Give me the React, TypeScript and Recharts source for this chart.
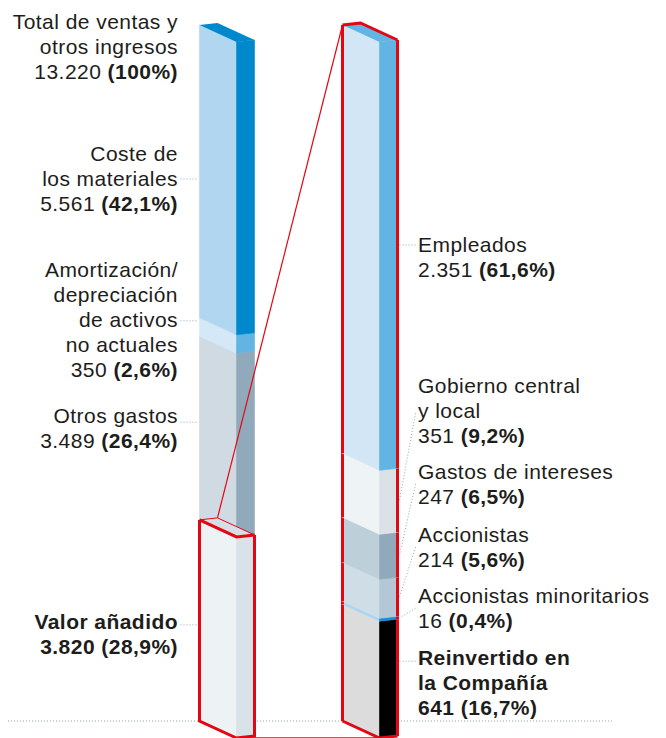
import { BarChart, Bar, XAxis, YAxis } from 'recharts'

// left column: sales split (bottom → top)
const leftKeys = ['valorAnadido', 'otrosGastos', 'amortizacion', 'costeMateriales']
const leftNames = [['Valor añadido'], ['Otros gastos'], ['Amortización/', 'depreciación', 'de activos', 'no actuales'], ['Coste de', 'los materiales']]
const leftValues = [3820, 3489, 350, 5561]
const leftPct = ['28,9%', '26,4%', '2,6%', '42,1%']
const totalName = ['Total de ventas y', 'otros ingresos']
const totalValue = 13220
const totalPct = '100%'

// right column: where the value added goes (bottom → top)
const rightKeys = ['reinvertido', 'minoritarios', 'accionistas', 'intereses', 'gobierno', 'empleados']
const rightNames = [['Reinvertido en', 'la Compañía'], ['Accionistas minoritarios'], ['Accionistas'], ['Gastos de intereses'], ['Gobierno central', 'y local'], ['Empleados']]
const rightValues = [641, 16, 214, 247, 351, 2351]
const rightPct = ['16,7%', '0,4%', '5,6%', '6,5%', '9,2%', '61,6%']
const rightTotal = rightValues.reduce((a, b) => a + b, 0)

const rows = [
  { side: 'total', ...Object.fromEntries(leftKeys.map((k, i) => [k, leftValues[i]])) },
  { side: 'valor', ...Object.fromEntries(rightKeys.map((k, i) => [k, rightValues[i]])) },
]

// layout / look
const W = 666
const H = 738
const MARGIN = { top: 25, right: 224.5, bottom: 17, left: 155.5 }
const BAND = (W - MARGIN.left - MARGIN.right) / 2
const BAR = 55
const FRONT = 37
const DEPTH = 18
const DROP = 17
const RISE = 2
const RED = '#e30613'
const DOT = '#8ea7b9'
const INK = '#1d1d1b'
const FONT = '"Liberation Sans", Arial, Helvetica, sans-serif'
const FS = 21
const LINE = 25

const leftStyle = [
  { front: '#edf2f5', side: '#d9e2e9', labelDy: 109, leadDy: -4, bold: true },
  { front: '#cfdae2', side: '#91aabb', labelDy: 87, leadDy: -1 },
  { front: '#d4e8f7', side: '#62b4e2', labelDy: -41, leadDy: 44 },
  { front: '#b1d6ef', side: '#0088cc', labelDy: 136, leadDy: 18 },
]
const rightStyle = [
  { front: '#dcdcdc', side: '#000000', labelDy: 61, leadDy: -4, leader: 'h', bold: true },
  { front: '#a9d5f1', side: '#1b8fd3', labelDy: 2, leadDy: 5, leader: 'd' },
  { front: '#cfdde6', side: '#b3c8d4', labelDy: -20, leadDy: 5, leader: 'd' },
  { front: '#bdcfd9', side: '#91aabb', labelDy: -38, leadDy: 5, leader: 'd' },
  { front: '#eef3f6', side: '#dae2e8', labelDy: -60, leadDy: 20, leader: 'd' },
  { front: '#d3e6f6', side: '#62b4e2', labelDy: 227, leadDy: -7, leader: 'h' },
]

const fmt = (n: number) => String(n).replace(/\B(?=(\d{3})+(?!\d))/g, '.')

function Faces({ x, y, h, front, side }: any) {
  const fr = `${x},${y} ${x + FRONT},${y + DROP} ${x + FRONT},${y + h + DROP} ${x},${y + h}`
  const sd = `${x + FRONT},${y + DROP} ${x + BAR},${y + DROP - RISE} ${x + BAR},${y + h + DROP - RISE} ${x + FRONT},${y + h + DROP}`
  return (
    <g>
      <polygon points={fr} fill={front} stroke={front} strokeWidth={0.6} />
      <polygon points={sd} fill={side} stroke={side} strokeWidth={0.6} />
    </g>
  )
}

function Lid({ x, y, fill }: any) {
  const pts = `${x},${y} ${x + DEPTH},${y - RISE} ${x + BAR},${y + DROP - RISE} ${x + FRONT},${y + DROP}`
  return <polygon points={pts} fill={fill} />
}

function Label({ x, y, anchor, lines, value, pct, bold }: any) {
  const w = bold ? 'bold' : 'normal'
  return (
    <text fontFamily={FONT} fontSize={FS} fill={INK} textAnchor={anchor} letterSpacing={0.45}>
      {lines.map((l: string, i: number) => (
        <tspan key={i} x={x} y={y + i * LINE} fontWeight={w}>{l}</tspan>
      ))}
      <tspan x={x} y={y + lines.length * LINE} fontWeight={w}>{fmt(value) + '\u00a0'}</tspan>
      <tspan fontWeight="bold">({pct})</tspan>
    </text>
  )
}

const leftShape = (i: number) => (p: any) => {
  const { x, y, height: h, payload, background } = p
  if (payload == null || payload[leftKeys[i]] == null) return <g />
  const st = leftStyle[i]
  const base = y + st.labelDy
  const plotTop = background?.y ?? MARGIN.top
  const yb = y + h
  return (
    <g>
      {i === 0 && (
        <g>
          <line x1={8} x2={W - 54} y1={yb} y2={yb} stroke={DOT} strokeDasharray="1 2" />
          <line x1={x + FRONT} y1={yb + DROP} x2={x + BAND + FRONT} y2={yb + DROP} stroke={RED} strokeWidth={1.5} />
        </g>
      )}
      <Faces x={x} y={y} h={h} front={st.front} side={st.side} />
      {i === 0 && (
        <polyline
          points={`${x},${y} ${x},${yb} ${x + FRONT},${yb + DROP} ${x + BAR},${yb + DROP - RISE} ${x + BAR},${y + DROP - RISE}`}
          fill="none" stroke={RED} strokeWidth={3} strokeLinejoin="miter"
        />
      )}
      {i === 1 && (
        <g>
          <Lid x={x} y={yb} fill="#d6dfe6" />
          <polyline points={`${x},${yb} ${x + DEPTH},${yb - RISE} ${x + BAR},${yb + DROP - RISE}`} fill="none" stroke={RED} strokeWidth={1} />
          <polyline points={`${x},${yb} ${x + FRONT},${yb + DROP} ${x + BAR},${yb + DROP - RISE}`} fill="none" stroke={RED} strokeWidth={3} />
          <line x1={x + DEPTH} y1={yb - RISE} x2={x + BAND} y2={plotTop} stroke={RED} strokeWidth={1.2} />
        </g>
      )}
      {i === 3 && (
        <g>
          <Lid x={x} y={y} fill={st.side} />
          <Label x={x - 21.5} y={y + 4} anchor="end" lines={totalName} value={totalValue} pct={totalPct} />
        </g>
      )}
      <line x1={x - 19} x2={x - 1} y1={base + st.leadDy} y2={base + st.leadDy} stroke={DOT} strokeDasharray="1 2" />
      <Label x={x - 21.5} y={base} anchor="end" lines={leftNames[i]} value={leftValues[i]} pct={leftPct[i]} bold={st.bold} />
    </g>
  )
}

const rightShape = (i: number) => (p: any) => {
  const { x, y, height: h, payload } = p
  if (payload == null || payload[rightKeys[i]] == null) return <g />
  const st = rightStyle[i]
  const base = y + st.labelDy
  const xr = x + BAR
  const ly = base + st.leadDy
  const endY = st.leader === 'h' ? ly : y + h / 2 + DROP - RISE
  const yb = y + h
  return (
    <g>
      <Faces x={x} y={y} h={h} front={st.front} side={st.side} />
      {i === rightKeys.length - 1 && <Lid x={x} y={y} fill={st.side} />}
      <line x1={x} x2={x} y1={y} y2={yb} stroke={RED} strokeWidth={3} />
      <line x1={xr} x2={xr} y1={y + DROP - RISE} y2={yb + DROP - RISE} stroke={RED} strokeWidth={3} />
      {i === 0 && (
        <polyline points={`${x},${yb} ${x + FRONT},${yb + DROP} ${xr},${yb + DROP - RISE}`} fill="none" stroke={RED} strokeWidth={3} />
      )}
      {i === rightKeys.length - 1 && (
        <polyline points={`${x},${y} ${x + DEPTH},${y - RISE} ${xr},${y + DROP - RISE}`} fill="none" stroke={RED} strokeWidth={3} />
      )}
      <line x1={xr + 18} y1={ly} x2={xr + 2} y2={endY} stroke={DOT} strokeDasharray="1 2" />
      <Label x={xr + 20.5} y={base} anchor="start" lines={rightNames[i]} value={rightValues[i]} pct={rightPct[i]} bold={st.bold} />
    </g>
  )
}

export default function App() {
  return (
    <div style={{ position: 'absolute', left: 0, top: 0, width: W, height: H, background: '#fff' }}>
      <BarChart width={W} height={H} data={rows} margin={MARGIN} barGap={0} barCategoryGap={0}>
        <XAxis xAxisId="L" dataKey="side" hide />
        <XAxis xAxisId="R" dataKey="side" hide />
        <YAxis yAxisId="L" domain={[0, totalValue]} hide />
        <YAxis yAxisId="R" domain={[0, rightTotal]} hide />
        {leftKeys.map((k, i) => (
          <Bar key={k} dataKey={k} stackId="L" xAxisId="L" yAxisId="L" barSize={BAR}
            isAnimationActive={false} shape={leftShape(i)} />
        ))}
        {rightKeys.map((k, i) => (
          <Bar key={k} dataKey={k} stackId="R" xAxisId="R" yAxisId="R" barSize={BAR}
            isAnimationActive={false} shape={rightShape(i)} />
        ))}
      </BarChart>
    </div>
  )
}
